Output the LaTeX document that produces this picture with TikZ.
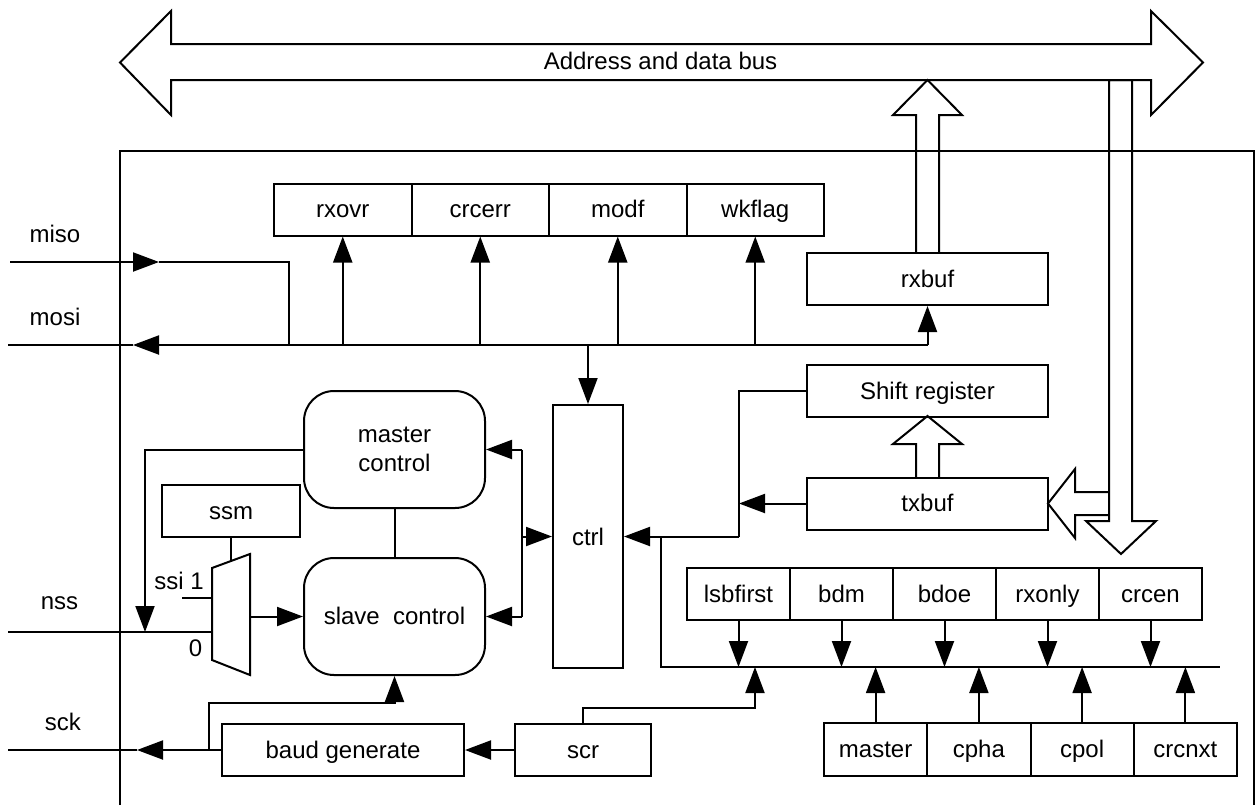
\documentclass[tikz,border=0pt]{standalone}
\usepackage{fontspec}
\setmainfont{Liberation Sans}
\usetikzlibrary{arrows.meta,calc}
\begin{document}
\begin{tikzpicture}[x=0.5pt,y=-0.5pt,line width=1pt,
  every node/.style={font=\fontsize{12}{14.5}\selectfont},
  box/.style={draw,rectangle,inner sep=0pt,minimum height=26pt,text height=9.5pt,text depth=1.5pt},
  rbox/.style={draw,rectangle,rounded corners=15pt,inner sep=0pt,minimum width=90.5pt,minimum height=58.5pt,align=center},
  arr/.style={-{Triangle[length=13pt,width=9.5pt]}},
  lbl/.style={inner sep=0pt,anchor=base}]
\fill[white] (0,0) rectangle (1260,805);
\useasboundingbox (0,0) rectangle (1260,805);

% address and data bus
\draw (120,62.5) -- (171,11) -- (171,44) -- (1151,44) -- (1151,11) -- (1203,62.5)
      -- (1151,115) -- (1151,80) -- (171,80) -- (171,115) -- cycle;
\node[lbl] (busl) at (660.5,69) {Address and data bus};

% outer block
\draw (120,805) -- (120,151) -- (1254,151) -- (1254,805);

% status register
\node[box,minimum width=68.75pt] (rxovr)  at (342.75,209.5) {rxovr};
\node[box,minimum width=68.75pt] (crcerr) at (480.25,209.5) {crcerr};
\node[box,minimum width=68.75pt] (modf)   at (617.75,209.5) {modf};
\node[box,minimum width=68.75pt] (wkflag) at (755.25,209.5) {wkflag};

% buffers
\node[box,minimum width=120.5pt] (rxbuf) at (927.5,279) {rxbuf};
\node[box,minimum width=120.5pt] (shift) at (927.5,391) {Shift register};
\node[box,minimum width=120.5pt] (txbuf) at (927.5,503.5) {txbuf};

% ctrl
\node[draw,rectangle,inner sep=0pt,minimum width=35pt,minimum height=131.5pt] (ctrl) at (588,536.5) {ctrl};

% master / slave control
\node[rbox] (master) at (394.5,449.5) {master\\control};
\node[rbox,text height=9.5pt,text depth=1.5pt] (slave) at (394.5,616.5) {slave\ \ control};

% ssm and mux
\node[box,minimum width=69pt] (ssm) at (231,511) {ssm};
\draw (212,568) -- (250,554) -- (250,675) -- (212,660) -- cycle;
\coordinate (muxT) at (231,561);
\coordinate (mux1) at (212,598);
\coordinate (in1) at (182,598);
\coordinate (mux0) at (212,632);
\coordinate (muxO) at (250,616.5);
\node[lbl] (ssil) at (179,589) {ssi 1};
\node[lbl] (zerol) at (195.5,656) {0};

% control register rows
\node[box,minimum width=51.5pt] (lsbfirst) at (738.5,594) {lsbfirst};
\node[box,minimum width=51.5pt] (bdm)      at (841.5,594) {bdm};
\node[box,minimum width=51.5pt] (bdoe)     at (944.5,594) {bdoe};
\node[box,minimum width=51.5pt] (rxonly)   at (1047.5,594) {rxonly};
\node[box,minimum width=51.5pt] (crcen)    at (1150.5,594) {crcen};

\node[box,minimum width=51.6pt,minimum height=26.5pt] (mastr)  at (875.6,749.5) {master};
\node[box,minimum width=51.6pt,minimum height=26.5pt] (cpha)   at (978.9,749.5) {cpha};
\node[box,minimum width=51.6pt,minimum height=26.5pt] (cpol)   at (1082.1,749.5) {cpol};
\node[box,minimum width=51.6pt,minimum height=26.5pt] (crcnxt) at (1185.4,749.5) {crcnxt};

% baud / scr
\node[box,minimum width=121pt] (baud) at (343,750) {baud generate};
\node[box,minimum width=68pt] (scr) at (583,750) {scr};

% pin labels
\node[lbl] (misol) at (55,242) {miso};
\node[lbl] (mosil) at (55,325) {mosi};
\node[lbl] (nssl)  at (59.5,609) {nss};
\node[lbl] (sckl)  at (63,730) {sck};

% miso / mosi
\coordinate (misoL) at (10,262);
\coordinate (misoA) at (159,262);
\coordinate (misoC) at (289,262);
\coordinate (misoD) at (289,345);
\coordinate (mosiL) at (8,345);
\coordinate (mosiA) at (133,345);
\coordinate (mosiR) at (927.5,345);
\draw[arr] (misoL) -- (misoA);
\draw (misoA) -- (misoC) -- (misoD);
\draw[arr] (misoD) -- (mosiA);
\draw (mosiA) -- (mosiL);
\draw (misoD) -- (mosiR);
\draw[arr] (mosiR) -- (rxbuf.south);
\foreach \n in {rxovr,crcerr,modf,wkflag}
  \draw[arr] (\n.south |- mosiR) -- (\n.south);
\draw[arr] (ctrl.north |- mosiR) -- (ctrl.north);

% ctrl <-> master / slave
\coordinate (cv1) at (522,449.5);
\coordinate (cv2) at (522,616.5);
\coordinate (cv3) at (522,536.5);
\draw (cv1) -- (cv2);
\draw[arr] (cv1) -- (master.east);
\draw[arr] (cv2) -- (slave.east);
\draw[arr] (cv3) -- (ctrl.west);
\draw (master.south) -- (slave.north);

% master -> nss, nss, mux
\coordinate (mL) at (145,449.5);
\coordinate (nssA) at (145,632);
\coordinate (nssL) at (8,632);
\draw[arr] (master.west) -- (mL) -- (nssA);
\draw (nssL) -- (mux0);
\draw (in1) -- (mux1);
\draw[arr] (muxO) -- (slave.west);
\draw (ssm.south) -- (muxT);

% shift register / txbuf -> ctrl, control bus
\coordinate (cj) at (661,536.5);
\coordinate (sv) at (739,536.5);
\coordinate (sh) at (739,391);
\coordinate (cbL) at (661,667);
\coordinate (cbR) at (1220,667);
\draw[arr] (sv) -- (ctrl.east);
\draw (cj) -- (cbL) -- (cbR);
\draw (shift.west) -- (sh) -- (sv);
\draw[arr] (txbuf.west) -- (txbuf.west -| sh);
\foreach \n in {lsbfirst,bdm,bdoe,rxonly,crcen}
  \draw[arr] (\n.south) -- (\n.south |- cbL);
\foreach \n in {mastr,cpha,cpol,crcnxt}
  \draw[arr] (\n.north) -- (\n.north |- cbL);

% scr -> control bus, scr -> baud
\coordinate (s1) at (583,708);
\coordinate (s2) at (755,708);
\draw[arr] (scr.north) -- (s1) -- (s2) -- (s2 |- cbL);
\draw[arr] (scr.west) -- (baud.east);

% sck
\coordinate (sckJ) at (209,750);
\coordinate (sckA) at (137,750);
\coordinate (sckL) at (8,750);
\coordinate (sk1) at (209,703);
\coordinate (sk2) at (394.5,703);
\draw[arr] (baud.west) -- (sckA);
\draw (sckA) -- (sckL);
\draw[arr] (sckJ) -- (sk1) -- (sk2) -- (slave.south);

% hollow data arrows
\draw (916,253) -- (916,115) -- (893,115) -- (927.5,80) -- (962,115) -- (939,115) -- (939,253);
\draw (1109,80) -- (1109,521) -- (1086,521) -- (1121,554) -- (1156,521) -- (1132,521) -- (1132,80) -- cycle;
\draw (1109,492) -- (1075,492) -- (1075,469) -- (1048,503.5) -- (1075,538) -- (1075,515) -- (1109,515);
\draw (916,477) -- (916,444) -- (893,444) -- (927.5,416) -- (962,444) -- (939,444) -- (939,477);
\end{tikzpicture}
\end{document}
